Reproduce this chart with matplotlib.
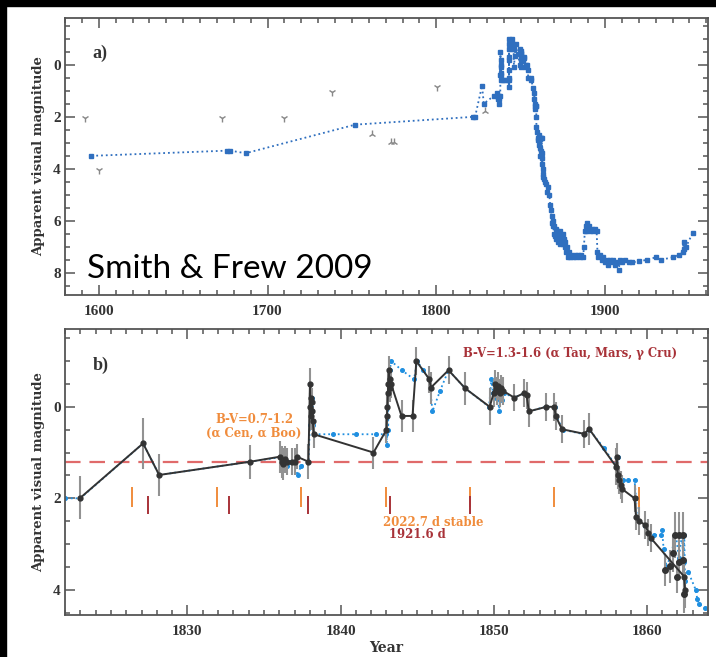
import matplotlib
matplotlib.use("Agg")
import matplotlib.pyplot as plt
from matplotlib.ticker import MultipleLocator
from matplotlib.patches import Rectangle

# Smith & Frew (2009) historical light curve of eta Car (blue dotted)
sf_year = [1595.7, 1676.0, 1678.0, 1687.0, 1752.0, 1822.0, 1823.0, 1827.1, 1828.15, 1834.1,
           1836.1, 1836.3, 1836.5, 1836.7, 1836.9, 1837.2, 1837.4, 1837.9, 1838.0, 1838.02,
           1838.05, 1838.08, 1838.11, 1838.14, 1838.17, 1838.25, 1839.5, 1841.0, 1842.3, 1843.0,
           1843.02, 1843.05, 1843.08, 1843.11, 1843.14, 1843.18, 1843.22, 1843.3, 1844.0, 1844.8,
           1845.0, 1845.4, 1845.8, 1846.0, 1846.5, 1847.05, 1848.15, 1849.7, 1849.85, 1849.95,
           1850.05, 1850.15, 1850.25, 1850.35, 1850.45, 1850.55, 1850.65, 1851.35, 1852.0, 1852.2,
           1852.3, 1853.4, 1854.0, 1854.1, 1854.5, 1855.9, 1856.25, 1857.2, 1858.0, 1858.1,
           1858.2, 1858.3, 1858.45, 1858.8, 1859.2, 1859.3, 1859.35, 1859.9, 1860.3, 1860.5,
           1860.9, 1861.0, 1861.1, 1861.3, 1861.6, 1861.9, 1862.1, 1862.3, 1862.4, 1862.45,
           1862.5, 1862.7, 1863.2, 1863.3, 1863.4, 1863.8, 1864.5, 1865.3, 1865.8, 1866.3,
           1867.0, 1867.5, 1868.0, 1868.3, 1868.6, 1869.0, 1869.3, 1869.6, 1870.0, 1870.4,
           1870.8, 1871.2, 1871.6, 1872.0, 1872.4, 1872.8, 1873.2, 1873.6, 1874.0, 1874.4,
           1874.8, 1875.2, 1875.6, 1876.0, 1876.5, 1877.0, 1877.5, 1878.0, 1878.5, 1879.0,
           1880.0, 1881.0, 1882.0, 1883.0, 1884.0, 1885.0, 1886.0, 1887.0, 1887.5, 1888.0,
           1888.5, 1889.0, 1889.5, 1890.0, 1890.5, 1891.0, 1892.0, 1893.0, 1894.0, 1895.0,
           1895.5, 1896.0, 1897.0, 1898.0, 1899.0, 1900.0, 1901.0, 1902.0, 1903.0, 1904.0,
           1905.0, 1906.0, 1907.0, 1908.0, 1909.0, 1910.0, 1912.0, 1914.0, 1916.0, 1920.0,
           1925.0, 1930.0, 1933.0, 1940.0, 1944.0, 1946.0, 1946.5, 1947.0, 1948.0, 1952.0]
sf_mag = [3.50, 3.30, 3.30, 3.40, 2.30, 2.00, 2.00, 0.80, 1.49, 1.20,
          1.10, 1.25, 1.30, 1.20, 1.20, 1.50, 1.30, 1.20, 0.40, -0.50,
          0.00, 0.30, -0.20, 0.10, 0.40, 0.60, 0.60, 0.60, 0.60, 0.60,
          0.84, 0.20, -0.20, 0.50, -0.60, -0.30, -0.80, -1.00, -0.80, -0.60,
          -1.00, -0.80, -0.60, 0.10, -0.35, -0.80, -0.40, 0.00, -0.60, -0.30,
          -0.55, -0.20, -0.45, 0.10, -0.40, -0.15, -0.30, -0.20, -0.30, -0.25,
          0.10, 0.00, 0.00, 0.20, 0.50, 0.60, 0.50, 0.90, 1.30, 1.10,
          1.50, 1.70, 1.60, 1.60, 1.60, 2.00, 2.40, 2.60, 2.90, 2.80,
          2.80, 2.70, 3.10, 3.50, 3.20, 2.80, 3.30, 2.80, 3.40, 2.80,
          3.80, 3.60, 4.00, 4.20, 4.30, 4.40, 4.50, 4.60, 4.90, 4.70,
          5.00, 5.40, 5.60, 6.10, 5.80, 6.20, 6.00, 6.50, 6.20, 6.60,
          6.30, 6.70, 6.40, 6.80, 6.50, 6.70, 6.40, 6.90, 6.60, 6.80,
          6.50, 6.90, 6.70, 7.00, 6.80, 7.20, 7.00, 7.40, 7.20, 7.40,
          7.30, 7.40, 7.30, 7.40, 7.30, 7.40, 7.30, 7.40, 7.00, 6.40,
          6.20, 6.40, 6.10, 6.30, 6.20, 6.40, 6.30, 6.40, 6.30, 6.40,
          7.20, 7.40, 7.30, 7.50, 7.40, 7.60, 7.50, 7.70, 7.50, 7.60,
          7.50, 7.70, 7.60, 7.90, 7.50, 7.60, 7.50, 7.60, 7.60, 7.55,
          7.50, 7.40, 7.50, 7.40, 7.30, 7.20, 6.80, 7.10, 7.00, 6.45]

# limits in panel a
upper_year = [1591.6, 1600.0, 1672.9, 1710.0, 1738.0, 1800.5]
upper_mag = [2.04, 4.05, 2.04, 2.04, 1.04, 0.85]
lower_year = [1761.8, 1773.4, 1775.0, 1829.0]
lower_mag = [2.65, 2.97, 2.97, 1.78]

# panel b: observations with error bars (black)
b_year = [1823.0, 1827.1, 1828.15, 1834.1, 1836.05, 1836.15, 1836.25, 1836.35, 1836.5, 1836.8,
          1837.0, 1837.15, 1837.9, 1838.0, 1838.03, 1838.06, 1838.09, 1838.12, 1838.15, 1838.18,
          1838.25, 1842.15, 1843.0, 1843.03, 1843.06, 1843.09, 1843.12, 1843.15, 1843.2, 1843.25,
          1843.3, 1843.98, 1844.7, 1844.95, 1845.8, 1845.9, 1847.05, 1848.15, 1849.74, 1850.0,
          1850.1, 1850.2, 1850.3, 1850.4, 1850.5, 1850.6, 1851.35, 1852.0, 1852.15, 1852.3,
          1853.45, 1853.96, 1854.05, 1854.46, 1855.9, 1856.25, 1858.0, 1858.05, 1858.1, 1858.2,
          1858.3, 1858.4, 1859.2, 1859.3, 1859.5, 1859.9, 1860.1, 1860.27, 1862.44, 1862.5]
b_mag = [1.99, 0.80, 1.49, 1.20, 1.09, 1.20, 1.25, 1.15, 1.20, 1.20,
         1.20, 1.09, 1.20, -0.50, 0.00, -0.20, 0.20, -0.10, 0.10, 0.30,
         0.60, 1.00, 0.50, 0.20, 0.00, -0.30, -0.50, -0.80, -0.60, -0.40,
         -0.50, 0.20, 0.20, -1.00, -0.60, -0.42, -0.80, -0.40, 0.00, -0.30,
         -0.50, -0.35, -0.45, -0.30, -0.40, -0.35, -0.20, -0.30, -0.25, 0.10,
         0.00, 0.00, 0.20, 0.49, 0.59, 0.49, 1.31, 1.10, 1.50, 1.60,
         1.71, 1.80, 2.00, 2.40, 2.50, 2.58, 2.75, 2.87, 3.71, 4.00]
b_err = [0.47, 0.56, 0.45, 0.37, 0.35, 0.35, 0.35, 0.30, 0.30, 0.30,
         0.30, 0.28, 0.38, 0.35, 0.30, 0.30, 0.30, 0.30, 0.30, 0.30,
         0.30, 0.35, 0.30, 0.30, 0.30, 0.30, 0.30, 0.30, 0.30, 0.30,
         0.30, 0.35, 0.35, 0.30, 0.30, 0.35, 0.30, 0.35, 0.40, 0.30,
         0.30, 0.30, 0.30, 0.30, 0.30, 0.30, 0.30, 0.30, 0.30, 0.35,
         0.30, 0.30, 0.30, 0.30, 0.30, 0.35, 0.40, 0.30, 0.30, 0.30,
         0.30, 0.30, 0.30, 0.30, 0.30, 0.30, 0.30, 0.30, 0.30, 0.40]

# scattered points not joined by the line
s_year = [1861.2, 1861.5, 1861.7, 1861.85, 1861.97, 1862.1, 1862.1, 1862.38, 1862.38, 1862.45]
s_mag = [3.57, 3.49, 3.20, 2.80, 3.71, 2.80, 3.39, 2.80, 3.35, 4.10]
s_err = [0.35, 0.35, 0.40, 0.50, 0.35, 0.50, 0.40, 0.50, 0.40, 0.40]

# periodicity markers
p2022_year = [1826.35, 1831.9, 1837.4, 1842.94, 1848.45, 1853.96, 1859.5]
p1921_year = [1827.4, 1832.7, 1837.9, 1843.2, 1848.45]

bv_level = 1.2

blue_a = '#2f6fbf'
blue_b = '#1f8fe0'
orange = '#f08c3c'
darkred = '#a83238'
axcol = '#555555'
tickfont = {'family': 'Liberation Serif', 'weight': 'bold', 'size': 11}


def style_axis(ax, xmaj, xmin):
    ax.xaxis.set_major_locator(MultipleLocator(xmaj))
    ax.xaxis.set_minor_locator(MultipleLocator(xmin))
    ax.yaxis.set_major_locator(MultipleLocator(2))
    ax.yaxis.set_minor_locator(MultipleLocator(0.5))
    ax.tick_params(which='both', direction='in', top=True, right=True, color=axcol, width=1.1)
    ax.tick_params(which='major', length=7)
    ax.tick_params(which='minor', length=3.5)
    ax.tick_params(axis='x', pad=7)
    ax.tick_params(axis='y', pad=3)
    for s in ax.spines.values():
        s.set_color(axcol)
        s.set_linewidth(1.3)
    for lab in ax.get_xticklabels() + ax.get_yticklabels():
        lab.set_fontproperties(tickfont)
        lab.set_color('#333333')
    ax.set_ylabel('Apparent visual magnitude', family='DejaVu Serif', weight='bold',
                  fontsize=9.5, color='#333333', labelpad=6)


fig = plt.figure(figsize=(7.16, 6.57), dpi=100)

# ---- panel a
ax1 = fig.add_axes([65 / 716, 1 - 295 / 657, 643 / 716, 277 / 657])
ax1.plot(sf_year, sf_mag, ls=':', lw=1.3, marker='s', ms=2.3, color=blue_a, zorder=3)
ax1.plot(upper_year, upper_mag, ls='none', marker='1', ms=6, mew=1, color='#888888')
ax1.plot(lower_year, lower_mag, ls='none', marker='2', ms=6, mew=1, color='#888888')
ax1.set_xlim(1580, 1961)
ax1.set_ylim(8.85, -1.8)
style_axis(ax1, 100, 10)
ax1.text(1596.5, -0.45, 'a)', family='Liberation Serif', weight='bold', fontsize=13,
         color='#333333', va='center')

# ---- panel b
ax2 = fig.add_axes([65 / 716, 1 - 615 / 657, 643 / 716, 286 / 657])
ax2.axhline(bv_level, color='#e06a6a', lw=1.6, dashes=(7, 4), zorder=1)
ax2.plot(sf_year, sf_mag, ls=':', lw=1.3, marker='o', ms=2.6, color=blue_b, zorder=2)
ax2.vlines(p2022_year, 1.75, 2.18, color=orange, lw=1.4, zorder=2)
ax2.vlines(p1921_year, 1.95, 2.34, color=darkred, lw=1.4, zorder=2)
ax2.errorbar(b_year, b_mag, yerr=b_err, fmt='-o', color='#333333', ecolor='#929292',
             elinewidth=1.5, lw=1.4, ms=3.5, zorder=4)
ax2.errorbar(s_year, s_mag, yerr=s_err, fmt='o', color='#333333', ecolor='#929292',
             elinewidth=1.5, ms=4, zorder=4)
ax2.set_xlim(1822, 1864)
ax2.set_ylim(4.55, -1.7)
style_axis(ax2, 10, 1)
ax2.set_xlabel('Year', family='DejaVu Serif', weight='bold', fontsize=10, color='#333333',
               labelpad=2)
ax2.text(1823.8, -0.9, 'b)', family='Liberation Serif', weight='bold', fontsize=13,
         color='#333333', va='center')

annot = {'family': 'DejaVu Serif', 'weight': 'bold', 'fontsize': 8.4}
ax2.text(1834.35, 0.43, 'B-V=0.7-1.2\n(\u03b1 Cen, \u03b1 Boo)', color=orange, ha='center',
         va='center', multialignment='center', linespacing=1.05, **annot)
ax2.text(1848.0, -1.17, 'B-V=1.3-1.6 (\u03b1 Tau, Mars, \u03b3 Cru)', color=darkred,
         ha='left', va='center', **annot)
ax2.text(1842.77, 2.52, '2022.7 d stable', color=orange, ha='left', va='center', **annot)
ax2.text(1843.15, 2.8, '1921.6 d', color=darkred, ha='left', va='center', **annot)

# caption over panel a
fig.text(87 / 716, 1 - 278 / 657, 'Smith & Frew 2009', family='Lato', fontsize=24,
         color='black', va='baseline', ha='left')

# black frame strips at top and left
fig.patches.append(Rectangle((0, 1 - 6 / 657), 1, 6 / 657, transform=fig.transFigure,
                             color='black', zorder=10))
fig.patches.append(Rectangle((0, 0), 6 / 716, 1, transform=fig.transFigure,
                             color='black', zorder=10))

fig.savefig('out.png', dpi=100, facecolor='white')
